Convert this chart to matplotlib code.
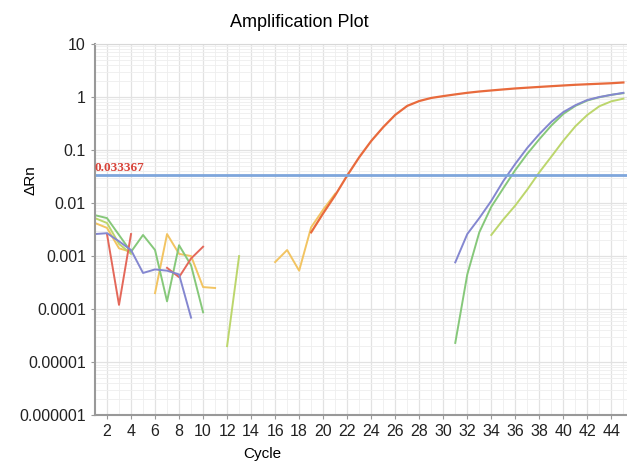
import numpy as np
import matplotlib.pyplot as plt
from matplotlib.ticker import FixedLocator, FixedFormatter, LogLocator, MultipleLocator, NullFormatter

nan = np.nan
cycles = np.arange(1, 46)

# значения по циклам (nan = нет точки)
def series(d):
    return np.array([d.get(c, nan) for c in cycles])

orange = series({19: 0.0028, 20: 0.0064, 21: 0.014, 22: 0.033, 23: 0.073, 24: 0.148,
                 25: 0.27, 26: 0.46, 27: 0.68, 28: 0.84, 29: 0.96, 30: 1.04, 31: 1.12,
                 32: 1.2, 33: 1.27, 34: 1.33, 35: 1.39, 36: 1.45, 37: 1.5, 38: 1.55,
                 39: 1.6, 40: 1.65, 41: 1.7, 42: 1.74, 43: 1.78, 44: 1.82, 45: 1.88})
purple = series({1: 0.0026, 2: 0.0027, 3: 0.0019, 4: 0.0013, 5: 0.00048, 6: 0.00056,
                 7: 0.00053, 8: 0.00045, 9: 0.000069,
                 31: 0.00076, 32: 0.0026, 33: 0.0052, 34: 0.011, 35: 0.026, 36: 0.055,
                 37: 0.11, 38: 0.2, 39: 0.34, 40: 0.52, 41: 0.7, 42: 0.88, 43: 1.0,
                 44: 1.1, 45: 1.2})
red = series({2: 0.0026, 3: 0.00012, 4: 0.0026,
              7: 0.0006, 8: 0.0004, 9: 0.0009, 10: 0.0015})
green = series({1: 0.0059, 2: 0.0052, 3: 0.0025, 4: 0.0012, 5: 0.0025, 6: 0.0013,
                7: 0.00014, 8: 0.0016, 9: 0.00067, 10: 0.000087,
                31: 0.000023, 32: 0.00045, 33: 0.0028, 34: 0.0085, 35: 0.019,
                36: 0.042, 37: 0.085, 38: 0.16, 39: 0.29, 40: 0.48, 41: 0.68, 42: 0.86,
                43: 0.99, 44: 1.1, 45: 1.18})
ltgreen = series({1: 0.0052, 2: 0.0042, 3: 0.0017, 4: 0.0011,
                  12: 0.00002, 13: 0.001,
                  34: 0.0025, 35: 0.0049, 36: 0.009, 37: 0.018, 38: 0.038, 39: 0.075,
                  40: 0.15, 41: 0.28, 42: 0.46, 43: 0.67, 44: 0.83, 45: 0.93})
yellow = series({1: 0.0042, 2: 0.0034, 3: 0.0014, 4: 0.0012,
                 6: 0.0002, 7: 0.0026, 8: 0.0011, 9: 0.001, 10: 0.00026, 11: 0.00025,
                 16: 0.00077, 17: 0.0013, 18: 0.00053, 19: 0.0035, 20: 0.0075, 21: 0.015})

threshold = 0.033367
y_ticks = [1e-6, 1e-5, 1e-4, 1e-3, 1e-2, 1e-1, 1, 10]
y_labels = ["0.000001", "0.00001", "0.0001", "0.001", "0.01", "0.1", "1", "10"]
x_ticks = list(range(2, 46, 2))

font = ["Liberation Sans Narrow", "Liberation Sans", "DejaVu Sans"]
plt.rcParams['font.family'] = font

fig = plt.figure(figsize=(6.27, 4.68), dpi=100)
ax = fig.add_axes([0.1515, 0.113, 0.8485, 0.793])

ax.plot(cycles, yellow, color="#f2c462", lw=1.4)
ax.plot(cycles, ltgreen, color="#bcd66c", lw=1.4)
ax.plot(cycles, green, color="#86c87a", lw=1.4)
ax.plot(cycles, red, color="#e4685a", lw=1.4)
ax.plot(cycles, purple, color="#8487d0", lw=1.4)
ax.plot(cycles, orange, color="#e86a3c", lw=1.6)

ax.axhline(threshold, color="#7ea6dc", lw=2)
ax.text(1.0, threshold * 1.06, f"{threshold:g}", color="#d8443a",
        fontsize=9.5, fontweight="bold", family="Liberation Serif", va="bottom")

ax.set_yscale("log")
ax.set_ylim(1e-6, 10)
ax.set_xlim(1, 45.3)
ax.yaxis.set_major_locator(FixedLocator(y_ticks))
ax.yaxis.set_major_formatter(FixedFormatter(y_labels))
ax.yaxis.set_minor_locator(LogLocator(base=10, subs=np.arange(2, 10)))
ax.yaxis.set_minor_formatter(NullFormatter())
ax.set_xticks(x_ticks)
ax.xaxis.set_minor_locator(MultipleLocator(1))

ax.grid(which="major", color="#e2e2e2", lw=0.9)
ax.grid(which="minor", color="#eeeeee", lw=0.6)
ax.set_axisbelow(True)

for s in ["left", "bottom"]:
    ax.spines[s].set_color("#999999")
    ax.spines[s].set_linewidth(1.5)
ax.spines["top"].set_color("#d8d8d8")
ax.spines["right"].set_visible(False)
ax.tick_params(which="major", labelsize=11.5, length=3, color="#999999", labelcolor="#222222")
ax.tick_params(which="minor", length=0)

fig.text(0.478, 0.952, "Amplification Plot", ha="center", va="center", fontsize=13)
fig.text(0.418, 0.03, "Cycle", ha="center", va="center", fontsize=11)
fig.text(0.048, 0.615, "ΔRn", ha="center", va="center", fontsize=11, rotation=90)

fig.savefig("out.png", dpi=100)
